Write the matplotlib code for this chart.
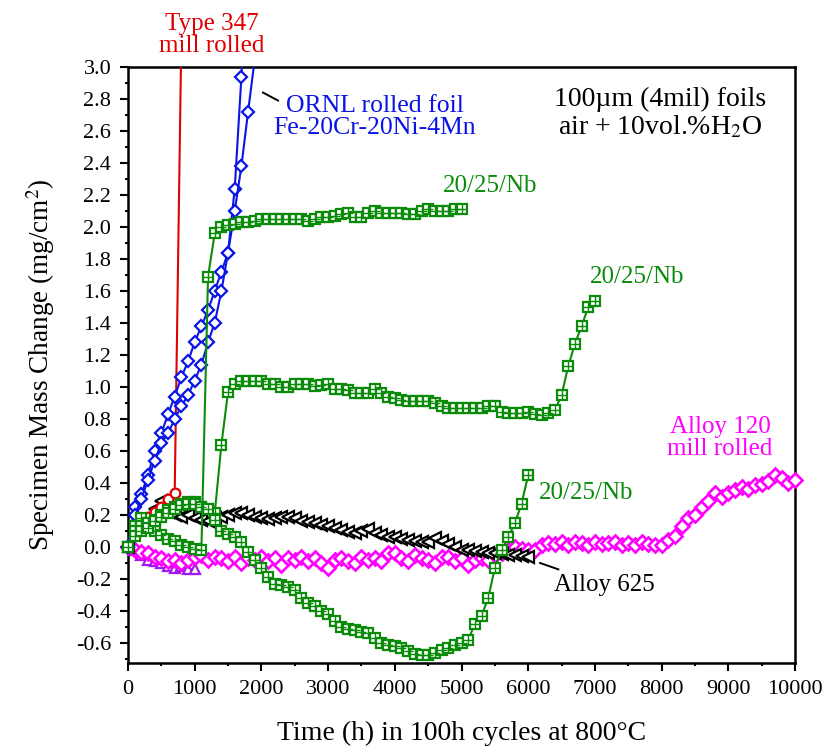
import numpy as np
import matplotlib
matplotlib.use('Agg')
import matplotlib.pyplot as plt
from matplotlib.ticker import MultipleLocator, FormatStrFormatter

plt.rcParams['font.family'] = 'Liberation Serif'
plt.rcParams['mathtext.fontset'] = 'stix'
plt.rcParams['axes.unicode_minus'] = False

# exposure time in 100h cycles
hours_347 = np.arange(0, 900, 100)
hours_ornl_a = np.arange(0, 1900, 100)
hours_ornl_b = np.arange(0, 2000, 100)
hours_nb_1 = np.arange(0, 5100, 100)
hours_nb_2 = np.arange(0, 7100, 100)
hours_nb_3 = np.arange(0, 6100, 100)
hours_625 = np.arange(0, 6100, 100)
hours_120 = np.arange(0, 10100, 100)
hours_120b = np.arange(0, 1100, 100)

# mass change, mg/cm2
type347 = [0.0, 0.1, 0.17, 0.19, 0.22, 0.25, 0.3, 0.335, 3.2]

ornl_a = [0.0, 0.25, 0.33, 0.45, 0.6, 0.71, 0.83, 0.94, 1.06, 1.16, 1.28, 1.38,
          1.48, 1.6, 1.72, 1.84, 2.24, 2.94, 3.7]
ornl_b = [0.0, 0.2, 0.3, 0.42, 0.54, 0.65, 0.71, 0.8, 0.88, 0.95, 1.04, 1.14,
          1.28, 1.4, 1.6, 1.84, 2.1, 2.38, 2.72, 3.05]

nb_1 = [0.0, 0.13, 0.18, 0.13, 0.1, 0.075, 0.05, 0.035, 0.013, 0.0, -0.01,
        -0.02, 1.69, 1.96, 2.0, 2.01, 2.02, 2.03, 2.03, 2.04, 2.05,
        2.05, 2.05, 2.05, 2.05, 2.05, 2.05, 2.04, 2.05, 2.06, 2.06,
        2.07, 2.08, 2.09, 2.06, 2.06, 2.09, 2.1, 2.09, 2.09, 2.09,
        2.09, 2.08, 2.08, 2.1, 2.11, 2.1, 2.1, 2.1, 2.11, 2.11]

nb_2 = [0.0, 0.1, 0.13, 0.15, 0.17, 0.2, 0.23, 0.25, 0.27, 0.28, 0.28,
        0.25, 0.24, 0.21, 0.64, 0.97, 1.02, 1.035, 1.035, 1.035, 1.035,
        1.02, 1.02, 1.0, 1.0, 1.02, 1.02, 1.02, 1.005, 1.01, 1.02,
        0.99, 0.99, 0.98, 0.965, 0.965, 0.965, 0.99, 0.96, 0.94, 0.93,
        0.92, 0.91, 0.91, 0.91, 0.91, 0.9, 0.88, 0.87, 0.87, 0.87,
        0.87, 0.87, 0.87, 0.88, 0.88, 0.845, 0.84, 0.835, 0.835, 0.845,
        0.83, 0.825, 0.84, 0.855, 0.95, 1.13, 1.27, 1.38, 1.5, 1.54]

nb_3 = [0.0, 0.07, 0.1, 0.12, 0.16, 0.19, 0.21, 0.24, 0.26, 0.27, 0.27,
        0.25, 0.24, 0.17, 0.1, 0.08, 0.06, 0.03, -0.03, -0.08, -0.13,
        -0.19, -0.23, -0.24, -0.25, -0.27, -0.32, -0.35, -0.37, -0.4, -0.42,
        -0.46, -0.5, -0.51, -0.52, -0.53, -0.54, -0.57, -0.6, -0.61, -0.62,
        -0.63, -0.65, -0.67, -0.675, -0.675, -0.66, -0.645, -0.63, -0.615, -0.6,
        -0.58, -0.48, -0.43, -0.32, -0.13, -0.02, 0.06, 0.15, 0.27, 0.45]

alloy625 = [0.0, 0.12, 0.15, 0.19, 0.24, 0.29, 0.22, 0.2, 0.19, 0.2, 0.18,
            0.17, 0.16, 0.18, 0.19, 0.2, 0.21, 0.21, 0.2, 0.19, 0.18,
            0.175, 0.18, 0.19, 0.19, 0.18, 0.16, 0.155, 0.15, 0.14, 0.13,
            0.12, 0.105, 0.095, 0.085, 0.1, 0.11, 0.09, 0.075, 0.065, 0.06,
            0.05, 0.045, 0.035, 0.03, 0.03, 0.055, 0.04, 0.02, 0.0, -0.02,
            -0.02, -0.025, -0.03, -0.035, -0.04, -0.045, -0.05, -0.05, -0.055, -0.06]

alloy120 = [0.0, -0.02, -0.03, -0.04, -0.06, -0.07, -0.09, -0.08, -0.1, -0.08, -0.06,
            -0.05, -0.08, -0.06, -0.07, -0.09, -0.06, -0.1, -0.07, -0.08, -0.06,
            -0.09, -0.07, -0.11, -0.07, -0.08, -0.06, -0.09, -0.07, -0.1, -0.13,
            -0.08, -0.07, -0.09, -0.1, -0.06, -0.08, -0.07, -0.09, -0.04, -0.04,
            -0.07, -0.09, -0.05, -0.07, -0.08, -0.1, -0.06, -0.06, -0.09, -0.07,
            -0.11, -0.08, -0.07, -0.08, -0.05, -0.04, -0.02, 0.0, -0.01, -0.02,
            -0.02, 0.01, 0.025, 0.02, 0.03, 0.01, 0.03, 0.025, 0.01, 0.03,
            0.02, 0.025, 0.03, 0.01, 0.025, 0.015, 0.03, 0.02, 0.01, 0.01,
            0.045, 0.07, 0.13, 0.18, 0.2, 0.25, 0.29, 0.335, 0.31, 0.335,
            0.355, 0.375, 0.365, 0.39, 0.395, 0.41, 0.45, 0.43, 0.4, 0.42]

alloy120b = [0.0, -0.02, -0.05, -0.08, -0.09, -0.1, -0.12, -0.13, -0.12, -0.14, -0.14]

RED = '#e00000'
BLUE = '#0a14e6'
GREEN = '#0a8c0a'
MAGENTA = '#ff00ff'
VIOLET = '#a21af0'

fig = plt.figure(figsize=(8.28, 7.54), dpi=100)
ax = fig.add_axes([0.1546, 0.1207, 0.8056, 0.7905])


def series(x, y, color, marker, ms, z, plus=False, mew=1.6):
    x = np.asarray(x)
    y = np.asarray(y)
    ax.plot(x, y, '-', color=color, lw=1.5, zorder=z)
    ok = y <= 3.0
    ax.plot(x[ok], y[ok], ls='none', marker=marker, ms=ms, mfc='white',
            mec=color, mew=mew, zorder=z, clip_on=False)
    if plus:
        ax.plot(x[ok], y[ok], ls='none', marker='+', ms=ms, mec=color,
                mew=1.0, zorder=z, clip_on=False)


series(hours_120b, alloy120b, VIOLET, '^', 7.5, 2)
series(hours_120, alloy120, MAGENTA, 'D', 7, 3, mew=1.9)
series(hours_625, alloy625, 'black', '<', 8, 4)
series(hours_347, type347, RED, 'o', 7, 5)
series(hours_ornl_a, ornl_a, BLUE, 'D', 6.3, 6)
series(hours_ornl_b, ornl_b, BLUE, 'D', 6.3, 6)
series(hours_nb_1, nb_1, GREEN, 's', 7, 7, plus=True)
series(hours_nb_2, nb_2, GREEN, 's', 7, 7, plus=True)
series(hours_nb_3, nb_3, GREEN, 's', 7, 7, plus=True)

ax.set_xlim(0, 10000)
ax.set_ylim(-0.725, 3.0)
ax.xaxis.set_major_locator(MultipleLocator(1000))
ax.xaxis.set_minor_locator(MultipleLocator(500))
ax.yaxis.set_major_locator(MultipleLocator(0.2))
ax.yaxis.set_minor_locator(MultipleLocator(0.1))
ax.yaxis.set_major_formatter(FormatStrFormatter('%.1f'))
ax.tick_params(which='major', direction='out', length=6, width=1.5,
               labelsize=16, top=False, right=False, pad=6)
ax.tick_params(which='minor', direction='out', length=2.5, width=1.5,
               top=False, right=False)
for s in ax.spines.values():
    s.set_linewidth(1.8)

ax.set_xlabel('Time (h) in 100h cycles at 800°C', fontsize=20, labelpad=16)
ax.set_ylabel('Specimen Mass Change (mg/cm$^2$)', fontsize=19.5, labelpad=14)

ax.text(1260, 3.2, 'Type 347\nmill rolled', color=RED, fontsize=18,
        ha='center', va='center', linespacing=1.05)
ax.text(3703, 2.69, 'ORNL rolled foil\nFe-20Cr-20Ni-4Mn', color=BLUE,
        fontsize=18.5, ha='center', va='center', linespacing=1.0)
ax.plot([2024, 2249], [2.84, 2.79], color='black', lw=1.4)
ax.text(7976, 2.71, '100µm (4mil) foils\nair + 10vol.%H$_2$O', color='black',
        fontsize=20, ha='center', va='center', linespacing=1.1)
ax.text(4723, 2.256, '20/25/Nb', color=GREEN, fontsize=18, ha='left', va='center')
ax.text(6927, 1.69, '20/25/Nb', color=GREEN, fontsize=18, ha='left', va='center')
ax.text(6162, 0.34, '20/25/Nb', color=GREEN, fontsize=18, ha='left', va='center')
ax.text(8876, 0.68, 'Alloy 120\nmill rolled', color=MAGENTA, fontsize=18,
        ha='center', va='center', linespacing=1.0)
ax.text(6387, -0.24, 'Alloy 625', color='black', fontsize=18, ha='left', va='center')
ax.plot([6177, 6452], [-0.10, -0.14], color='black', lw=1.4)

fig.savefig('out.png', dpi=100)
